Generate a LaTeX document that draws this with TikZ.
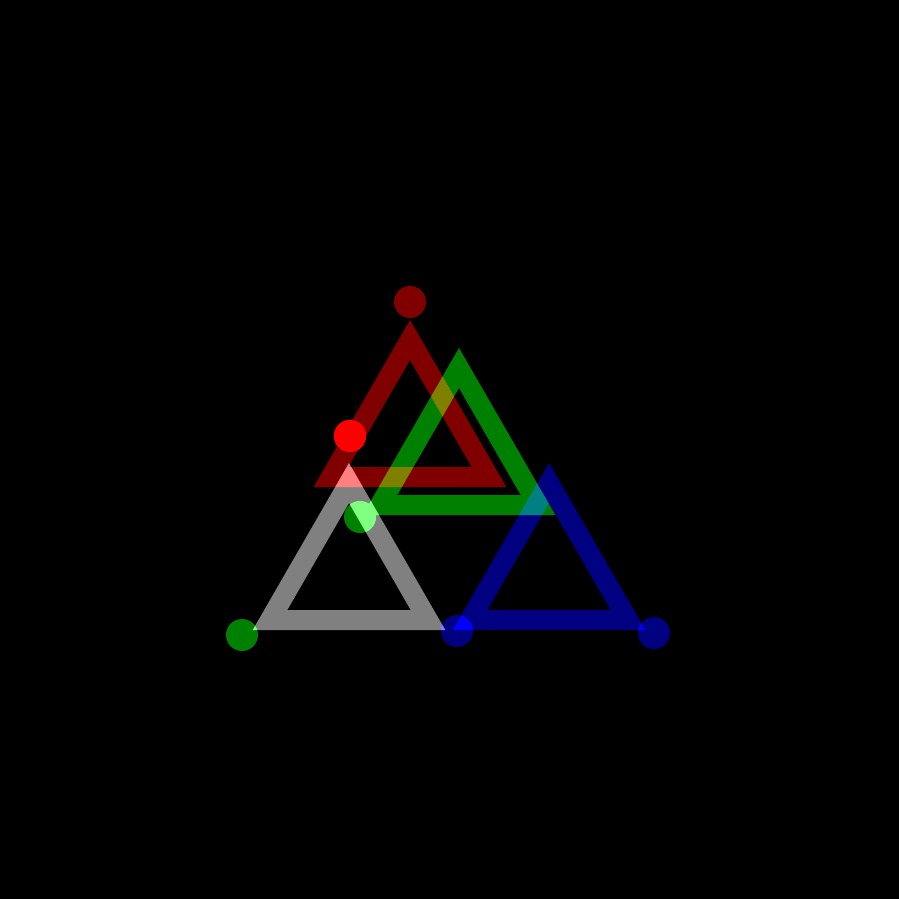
\documentclass[tikz,border=0pt]{standalone}
\definecolor{cgray}{RGB}{128,128,128}
\definecolor{cred}{RGB}{128,0,0}
\definecolor{cgreen}{RGB}{0,128,0}
\definecolor{cblue}{RGB}{0,0,128}
\definecolor{bred}{RGB}{255,0,0}
\tikzset{
  triedge/.style={draw=#1, line width=20pt, line join=miter},
  vdot/.style={fill=#1},
}
% additive painting for half-intensity colours: colour dodge then screen
\newcommand\addpaint[2]{%
  \begin{scope}[blend mode=color dodge]\path[#1] #2;\end{scope}%
  \begin{scope}[blend mode=screen]\path[#1] #2;\end{scope}%
}
\begin{document}
\begin{tikzpicture}[x=1pt,y=-1pt]
\fill[black] (0,0) rectangle (899,899);
\useasboundingbox (0,0) rectangle (899,899);
% vertices
\coordinate (g1) at (270,620); \coordinate (g2) at (428,620); \coordinate (g3) at (349,483);
\coordinate (b1) at (470,620); \coordinate (b2) at (628,620); \coordinate (b3) at (549,483);
\coordinate (r1) at (331,477); \coordinate (r2) at (489,477); \coordinate (r3) at (410,340);
\coordinate (n1) at (380,505); \coordinate (n2) at (538,505); \coordinate (n3) at (459,368);
% triangles
\addpaint{triedge=cgray}{(g1) -- (g2) -- (g3) -- cycle}
\addpaint{triedge=cblue}{(b1) -- (b2) -- (b3) -- cycle}
\addpaint{triedge=cred}{(r1) -- (r2) -- (r3) -- cycle}
\addpaint{triedge=cgreen}{(n1) -- (n2) -- (n3) -- cycle}
% dots
\addpaint{vdot=cred}{(410,302) circle[radius=16]}
\addpaint{vdot=bred}{(350,436) circle[radius=16]}
\addpaint{vdot=cgreen}{(242,635) circle[radius=16]}
\addpaint{vdot=cgreen}{(360,517) circle[radius=16]}
\addpaint{vdot=cblue}{(457,631) circle[radius=16]}
\addpaint{vdot=cblue}{(654,633) circle[radius=16]}
\end{tikzpicture}
\end{document}
